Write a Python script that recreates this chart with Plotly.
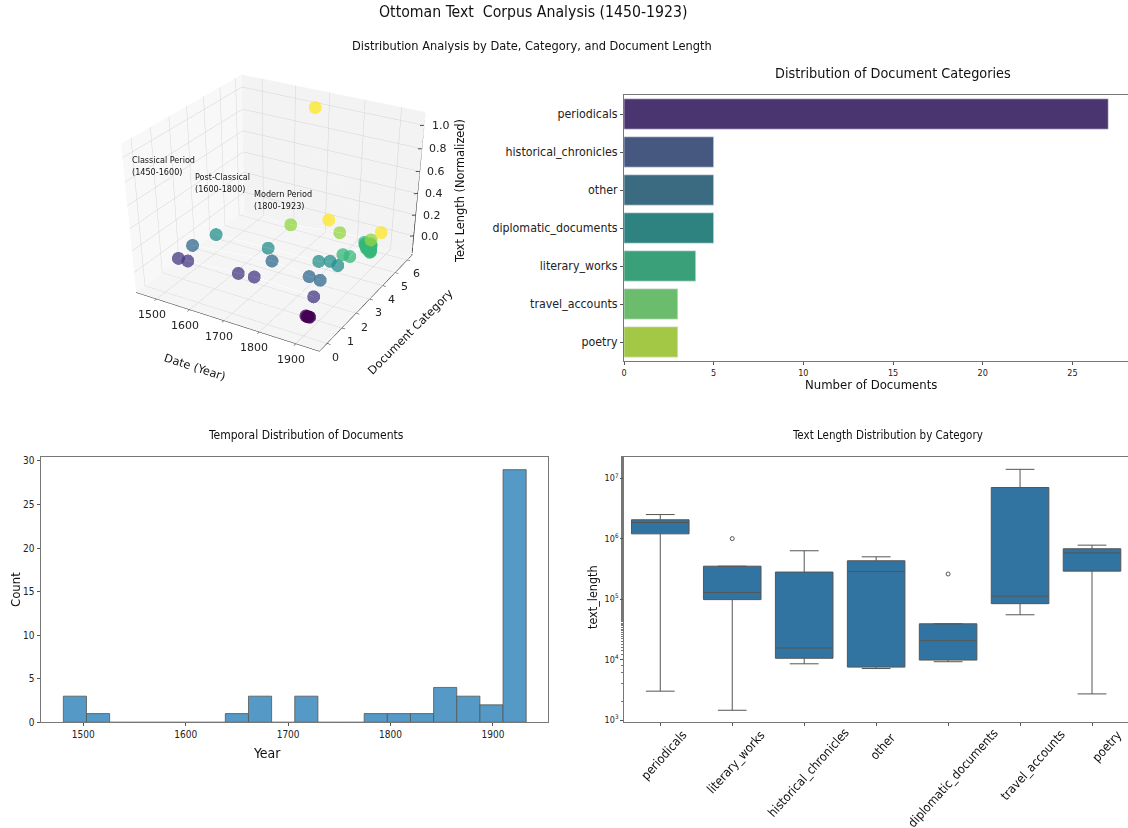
import math
import plotly.graph_objects as go

W, H = 1128, 828
FONT = "DejaVu Sans Condensed, DejaVu Sans, sans-serif"
FONT3D = "DejaVu Sans, sans-serif"

# --- 3D scatter
doc_year = [1905,1908,1910,1912,1915,
            1492,1521,1672,1718,1884,
            1484,1724,1830,1861,
            1508,1668,1816,1848,1870,
            1846,1866,
            1905,1906,1908,1909,1910,1911,1912,1913,1914,1915,1916,1917,1918,1919,1920,1920,1921,1921,1922,1922,1923,1923,1923,1923,1923,
            1649,1797,1888,
            1675,1725,1882]
doc_cat = [0]*5 + [1]*5 + [2]*4 + [3]*5 + [4]*27 + [5]*3 + [6]*3
doc_len = [0.002,0.0,0.0,0.001,0.001,
           0.003,0.005,0.03,0.04,0.02,
           0.0,0.07,0.025,0.02,
           0.01,0.02,0.03,0.06,0.04,
           0.0,0.0,
           0.17,0.15,0.14,0.16,0.12,0.15,0.13,0.14,0.11,0.13,0.16,0.14,0.12,0.10,0.15,0.13,0.09,0.17,0.11,0.14,0.16,0.12,0.10,0.13,0.15,
           0.0,0.05,0.06,
           1.0,0.0,0.01]
guide_year = [1675,1882]
guide_cat = [6,6]
guide_len = [0.66,-0.1]
period_labels = ["Classical Period<br>(1450-1600)","Post-Classical<br>(1600-1800)","Modern Period<br>(1800-1923)"]
year_ticks = [1500,1600,1700,1800,1900]
cat_ticks = [0,1,2,3,4,5,6]
len_ticks = [0.0,0.2,0.4,0.6,0.8,1.0]
XR, YR, ZR = [1437, 1963], [-0.5, 6.4], [-0.19, 1.11]

# --- category bars
bar_names = ["periodicals","historical_chronicles","other","diplomatic_documents","literary_works","travel_accounts","poetry"]
bar_counts = [27,5,5,5,4,3,3]
bar_colors = ["#4b3570","#465880","#3a6b80","#2e8280","#3aa07a","#6cbc6e","#a3c846"]

# --- histogram
hist_centers = [1491.8,1514.4,1537,1559.6,1582.2,1604.8,1627.4,1650,1672.6,1695.2,1717.8,1740.4,1763,1785.6,1808.2,1830.8,1853.4,1876,1898.6,1921.2]
hist_counts = [3,1,0,0,0,0,0,1,3,0,3,0,0,1,1,1,4,3,2,29]

# --- box plot
box_names = ["periodicals","literary_works","historical_chronicles","other","diplomatic_documents","travel_accounts","poetry"]
box_low = [3000,1450,8500,7100,9200,55000,2700]
box_q1 = [1.2e6,9.8e4,1.05e4,7500,9800,8.4e4,2.9e5]
box_med = [1.85e6,1.28e5,1.55e4,2.85e5,2.05e4,1.12e5,5.8e5]
box_q3 = [2.05e6,3.5e5,2.8e5,4.3e5,3.9e4,7e6,6.8e5]
box_high = [2.5e6,3.5e5,6.3e5,5e5,3.9e4,1.4e7,7.8e5]
outlier_names = ["literary_works","diplomatic_documents"]
outlier_vals = [1e6,2.6e5]
log_ticks = [1e3,1e4,1e5,1e6,1e7]
log_text = ["10<sup>3</sup>","10<sup>4</sup>","10<sup>5</sup>","10<sup>6</sup>","10<sup>7</sup>"]

def px(x): return x / W
def py(y): return 1 - y / H

fig = go.Figure()

# 3D
for c in range(6):
    idx = sorted([i for i, v in enumerate(doc_cat) if v == c], key=lambda i: doc_year[i])
    fig.add_trace(go.Scatter3d(x=[doc_year[i] for i in idx], y=[doc_cat[i] for i in idx], z=[doc_len[i] for i in idx],
                               mode="lines", line=dict(color="rgba(170,170,170,0.35)", width=1), showlegend=False, hoverinfo="skip"))
fig.add_trace(go.Scatter3d(x=guide_year, y=guide_cat, z=guide_len, mode="lines",
                           line=dict(color="rgba(170,170,170,0.5)", width=1, dash="dash"), showlegend=False, hoverinfo="skip"))
fig.add_trace(go.Scatter3d(x=doc_year, y=doc_cat, z=doc_len, mode="markers",
                           marker=dict(size=7.5, color=doc_cat, colorscale="Viridis", cmin=0, cmax=6, opacity=0.75,
                                       line=dict(width=0)), showlegend=False, hoverinfo="skip"))
# z axis spine on the right corner, with tick marks
zx, zy, zz = [XR[1], XR[1]], [YR[1], YR[1]], [ZR[0], ZR[1]]
for t in len_ticks:
    zx += [None, XR[1], XR[1] - 8]
    zy += [None, YR[1], YR[1] - 0.08]
    zz += [None, t, t]
fig.add_trace(go.Scatter3d(x=zx, y=zy, z=zz, mode="lines", line=dict(color="#222", width=1.5), showlegend=False, hoverinfo="skip"))

def ax3d(rng, vals, bg, line=True, ticks="outside"):
    return dict(title=dict(text=""), range=rng, tickvals=vals, showticklabels=False,
                showbackground=True, backgroundcolor=bg, gridcolor="#d4d4d4", gridwidth=1,
                showline=line, linecolor="#222", linewidth=1, zeroline=False,
                ticks=ticks, ticklen=3, tickcolor="#222", showspikes=False, autorange=False)

def t3d(x, y, z, text, dx, dy):
    return dict(x=x, y=y, z=z, text=text, showarrow=False, xshift=dx, yshift=dy, xanchor="center", yanchor="middle",
                font=dict(family=FONT3D, size=11, color="#222"))

scene_ann = [t3d(v, YR[0] + 0.01, ZR[0] + 0.001, str(v), -5, -16) for v in year_ticks]
scene_ann += [t3d(XR[1] - 0.5, v, ZR[0] + 0.001, str(v), 9, -14) for v in cat_ticks]
scene_ann += [t3d(XR[1] - 0.5, YR[1] - 0.01, v, f"{v:.1f}", 17, 0) for v in len_ticks]

e = 5.5
cz = -1.26
el = math.radians(38)
fig.update_layout(scene=dict(
    domain=dict(x=[0, px(556)], y=[0, 1]),
    xaxis=ax3d(XR, year_ticks, "#f8f8f8"),
    yaxis=ax3d(YR, cat_ticks, "#f3f3f3"),
    zaxis=ax3d(ZR, len_ticks, "#f5f5f5", line=False, ticks=""),
    aspectmode="manual", aspectratio=dict(x=1, y=1, z=0.75),
    camera=dict(eye=dict(x=0.5*math.cos(el)*e, y=-0.866*math.cos(el)*e, z=math.sin(el)*e + cz),
                center=dict(x=0, y=0, z=cz), up=dict(x=0, y=0, z=1)),
    annotations=scene_ann,
))

# Bars
fig.add_trace(go.Bar(x=bar_counts, y=bar_names, orientation="h", marker=dict(color=bar_colors, line=dict(color="#e8e8f0", width=0.6)),
                     width=0.8, xaxis="x", yaxis="y", showlegend=False))
# Histogram
fig.add_trace(go.Bar(x=hist_centers, y=hist_counts, width=22.6, marker=dict(color="#5599c6", line=dict(color="#555", width=0.8)),
                     xaxis="x2", yaxis="y2", showlegend=False))
# Box
fig.add_trace(go.Box(x=box_names, lowerfence=box_low, q1=box_q1, median=box_med, q3=box_q3, upperfence=box_high,
                     width=0.8, whiskerwidth=0.5, fillcolor="#3274a1", line=dict(color="#555", width=1),
                     boxpoints=False, xaxis="x3", yaxis="y3", showlegend=False))
fig.add_trace(go.Scatter(x=outlier_names, y=outlier_vals, mode="markers",
                         marker=dict(symbol="circle-open", size=4, color="#555", line=dict(width=1)),
                         xaxis="x3", yaxis="y3", showlegend=False))

def frame(size):
    return dict(showline=True, mirror=True, linecolor="#777", linewidth=1, showgrid=False, zeroline=False, automargin=False,
                ticks="outside", ticklen=3, tickcolor="#555", tickfont=dict(family=FONT, size=size, color="#222"))

fig.update_layout(
    width=W, height=H, margin=dict(l=0, r=0, t=0, b=0), paper_bgcolor="white", plot_bgcolor="white",
    xaxis=dict(domain=[px(624), 1], anchor="y", range=[0, 28.1], tickvals=[0,5,10,15,20,25], **frame(9)),
    yaxis=dict(domain=[py(361), py(95)], anchor="x", categoryorder="array", categoryarray=bar_names,
               range=[6.5, -0.5], **frame(12.3)),
    xaxis2=dict(domain=[px(40.5), px(548)], anchor="y2", range=[1458.2, 1953.8], tickvals=year_ticks, **frame(10)),
    yaxis2=dict(domain=[py(722.3), py(457)], anchor="x2", range=[0, 30.45], tickvals=[0,5,10,15,20,25,30], **frame(10)),
    xaxis3=dict(domain=[px(624.3), 1], anchor="y3", categoryorder="array", categoryarray=box_names, range=[-0.5, 6.5],
                showticklabels=False, **{k: v for k, v in frame(12).items()}),
    yaxis3=dict(domain=[py(722.3), py(457)], anchor="x3", type="log", range=[2.962, 7.35], tickvals=log_ticks, ticktext=log_text,
                minor=dict(ticks="outside", ticklen=2, tickcolor="#777"), **frame(9)),
)

def label(x, y, text, size, rot=0, xanchor="center", align="center", family=FONT):
    fig.add_annotation(x=px(x), y=py(y), xref="paper", yref="paper", text=text, showarrow=False, textangle=rot,
                       xanchor=xanchor, yanchor="middle", align=align, font=dict(family=family, size=size, color="#111"))

label(533, 12, "Ottoman Text  Corpus Analysis (1450-1923)", 15.7)
label(532, 45, "Distribution Analysis by Date, Category, and Document Length", 12.7)
label(893, 73, "Distribution of Document Categories", 14.3)
label(871, 384, "Number of Documents", 13)
label(306, 435, "Temporal Distribution of Documents", 12)
label(887, 435, "Text Length Distribution by Category", 11.5)
label(267, 753, "Year", 14)
label(15, 590, "Count", 13, rot=-90)
label(592, 597, "text_length", 12.5, rot=-90)
for xp, yp, t in zip([130, 193, 252], [166, 183, 200], period_labels):
    label(xp, yp, t, 9, xanchor="left", align="left")
label(195, 367, "Date (Year)", 11.4, rot=18, family=FONT3D)
label(410, 332, "Document Category", 11.4, rot=-45, family=FONT3D)
label(460, 191, "Text Length (Normalized)", 11.4, rot=-90, family=FONT3D)
# category labels of the box plot, centred on their own text as in the reference
for name, cx, cy in zip(box_names, [663,735,808,882,952,1032,1106], [755,762,772,746,778,765,746]):
    label(cx, cy, name, 12.5, rot=-48)

fig.write_html("out.html", post_script="document.body.style.margin='0';", config=dict(displayModeBar=False))
